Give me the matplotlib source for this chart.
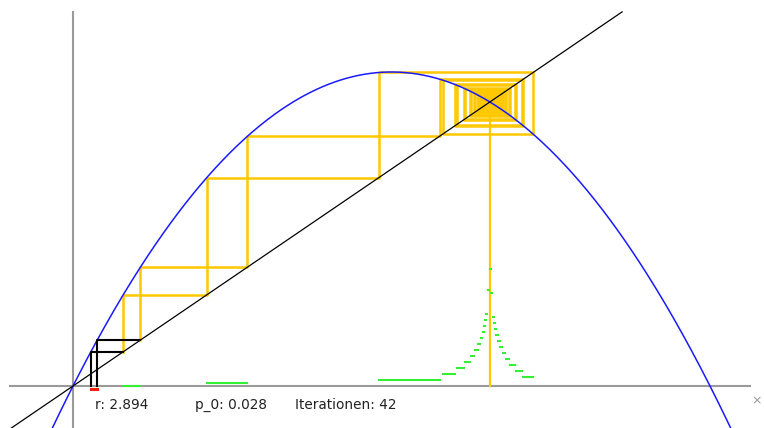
import matplotlib
matplotlib.use("Agg")
import matplotlib.pyplot as plt
import numpy as np

# parameters shown under the chart
r = 2.894
p_0 = 0.028
p_0_alt = 0.038      # second, slightly shifted start value
iterations = 42

labels = [f"r: {r}", f"p_0: {p_0}", f"Iterationen: {iterations}"]
label_x = [0.124, 0.255, 0.386]


def f(p):
    return r * p * (1 - p)


def trajectory(start, n):
    werte = [start]
    for _ in range(n):
        werte.append(f(werte[-1]))
    return np.array(werte)


traj_a = trajectory(p_0, iterations)
traj_b = trajectory(p_0_alt, iterations)

fig = plt.figure(figsize=(7.64, 4.28), dpi=100)
ax = fig.add_axes([0, 0, 1, 1])
ax.set_xlim(-73 / 637, 691 / 637)
ax.set_ylim(-42 / 434, 386 / 434)
ax.axis("off")

gray = "#9a9a9a"
yellow = "#ffc800"
green = "#33f033"

# axes lines
ax.plot([-0.099, 1.063], [0, 0], color=gray, lw=1.5, zorder=1)
ax.plot([0, 0], [-0.1, 0.862], color=gray, lw=1.5, zorder=1)

# cobweb
for traj in (traj_a, traj_b):
    # first step black
    ax.plot([traj[0], traj[0], traj[1]], [0, traj[1], traj[1]],
            color="black", lw=1.5, zorder=4)
    xs, ys = [], []
    for n in range(1, iterations):
        xs += [traj[n], traj[n], traj[n + 1]]
        ys += [traj[n], traj[n + 1], traj[n + 1]]
    ax.plot(xs, ys, color=yellow, lw=1.8, zorder=2)

ax.plot([traj_a[-1], traj_a[-1]], [traj_a[-1], 0], color=yellow, lw=1.6, zorder=2)

# parabola and diagonal
p = np.linspace(-0.2, 1.2, 600)
ax.plot(p, f(p), color="#1a1aff", lw=1.1, zorder=3)
ax.plot([-0.0968, 0.862], [-0.0968, 0.862], color="black", lw=0.9, zorder=3)

# spread of the two trajectories per iteration
step = 3 / 434
base = -2.5 / 434
for n in range(iterations + 1):
    lo = min(traj_a[n], traj_b[n])
    hi = max(traj_a[n], traj_b[n])
    col = "#ee2200" if n == 0 else green
    ax.plot([lo, hi], [base + n * step] * 2, color=col,
            lw=2.2 if n == 0 else 1.5, solid_capstyle="projecting", zorder=5)

for txt, x in zip(labels, label_x):
    fig.text(x, 1 - 405 / 428, txt, fontsize=9.8, family="DejaVu Sans",
             color="#222222", va="center", ha="left")
fig.text(757 / 764, 1 - 401 / 428, "\u00d7", fontsize=9, color="#999999",
         ha="center", va="center")

plt.savefig("out.png", dpi=100)
